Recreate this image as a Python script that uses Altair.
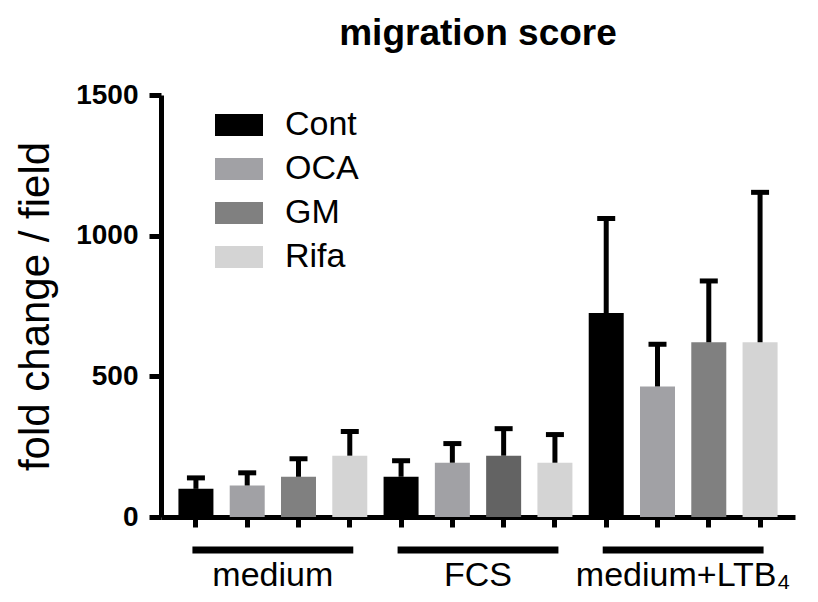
import altair as alt
import pandas as pd

groups = ["medium", "FCS", "medium+LTB₄"]
series = ["Cont", "OCA", "GM", "Rifa"]
means = {
    "Cont": [100, 143, 725],
    "OCA": [112, 193, 464],
    "GM": [143, 218, 621],
    "Rifa": [218, 193, 621],
}
uppers = {
    "Cont": [139, 200, 1061],
    "OCA": [157, 261, 614],
    "GM": [207, 314, 839],
    "Rifa": [304, 293, 1154],
}
colors = ["#000000", "#a1a1a5", "#808080", "#d4d4d4"]

rows = []
for gi, g in enumerate(groups):
    for s in series:
        rows.append({"group": g, "series": s, "key": f"{g}|{s}",
                     "mean": means[s][gi], "upper": uppers[s][gi]})
df = pd.DataFrame(rows)
order = list(df["key"])

glines = pd.DataFrame({
    "group": groups,
    "first": [f"{g}|{series[0]}" for g in groups],
    "second": [f"{g}|{series[1]}" for g in groups],
    "last": [f"{g}|{series[-1]}" for g in groups],
})

FONT = "Liberation Sans"

xscale = alt.Scale(domain=order, paddingInner=0.318, paddingOuter=0.34)
xaxis = alt.Axis(labels=False, title=None, ticks=True, tickSize=10, tickWidth=5,
                 tickColor="black", domainWidth=5, domainColor="black", grid=False)
x = alt.X("key:N", sort=order, scale=xscale, axis=xaxis)

yscale = alt.Scale(domain=[0, 1500], nice=False)
yaxis = alt.Axis(values=[0, 500, 1000, 1500], format="d", title="fold change / field",
                 titleFontSize=42, titleFontWeight="normal", titleFont=FONT,
                 titleColor="black", titlePadding=18,
                 labelFontSize=28, labelFontWeight="bold",
                 labelFont=FONT, labelColor="black", labelPadding=11,
                 tickSize=12, tickWidth=5, tickColor="black",
                 domainWidth=5, domainColor="black", grid=False)

color = alt.condition(
    alt.datum.key == "FCS|GM",
    alt.value("#636363"),
    alt.Color("series:N", scale=alt.Scale(domain=series, range=colors),
              legend=alt.Legend(title=None, orient="none", legendX=54, legendY=6,
                                symbolType="M-1,-0.46L1,-0.46L1,0.46L-1,0.46Z",
                                symbolSize=2304, symbolStrokeWidth=0,
                                labelFontSize=34, labelFont=FONT, labelColor="black",
                                labelOffset=22, rowPadding=3, padding=0)),
)

base = alt.Chart(df)

bars = base.mark_bar(width=35).encode(
    x=x,
    y=alt.Y("mean:Q", scale=yscale, axis=yaxis),
    color=color,
)

stems = base.mark_rule(strokeWidth=5, color="black").encode(
    x=alt.X("key:N", sort=order), y="mean:Q", y2="upper:Q"
)
caps = base.mark_tick(size=18, thickness=5, color="black", opacity=1).encode(
    x=alt.X("key:N", sort=order), y="upper:Q"
)

under = alt.Chart(glines).mark_rule(strokeWidth=7, color="black", strokeCap="square").encode(
    x=alt.X("first:N", sort=order), x2="last:N", y=alt.value(455)
)
glabels = alt.Chart(glines).mark_text(font=FONT, fontSize=34, color="black",
                                      baseline="alphabetic", align="center", dx=25.6).encode(
    x=alt.X("second:N", sort=order), y=alt.value(491), text="group:N"
)

chart = alt.layer(bars, stems, caps, under, glabels).properties(
    width=634, height=422,
    title=alt.TitleParams("migration score", fontSize=37, fontWeight="bold", font=FONT,
                          color="black", anchor="middle", offset=28),
    autosize=alt.AutoSizeParams(type="none"),
    padding={"left": 153, "top": 87, "right": 15, "bottom": 77},
).configure_view(stroke=None)

chart.save("out.html", embed_options={"renderer": "svg", "actions": False})
